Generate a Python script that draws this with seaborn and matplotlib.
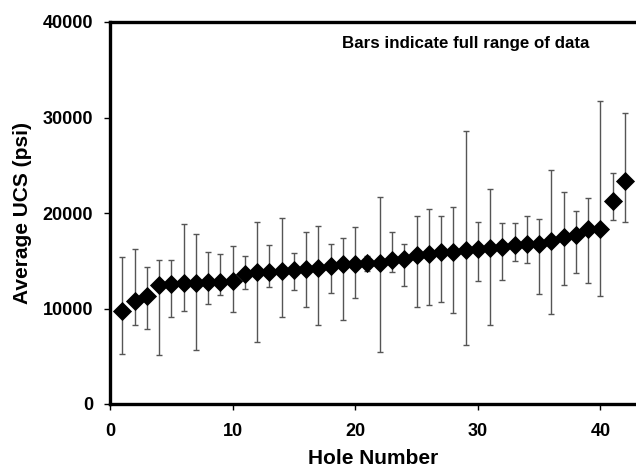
import matplotlib
matplotlib.use("Agg")
import matplotlib.pyplot as plt
import seaborn as sns
import numpy as np
import pandas as pd

holes = list(range(1, 43))
avg_ucs = [9770, 10750, 11270, 12420, 12600, 12670, 12670, 12810, 12810, 12880,
           13650, 13790, 13860, 13930, 14070, 14140, 14280, 14480, 14620, 14620,
           14720, 14720, 15080, 15210, 15600, 15710, 15880, 15950, 16120, 16260,
           16330, 16470, 16610, 16720, 16790, 17030, 17520, 17660, 18290, 18290,
           21220, 23310]
min_ucs = [5230, 8300, 7820, 5130, 9110, 9700, 5690, 10470, 11380, 9630,
           12010, 6520, 12220, 9140, 11940, 10190, 8300, 11590, 8790, 11100,
           13930, 5440, 13860, 12360, 10120, 10330, 10680, 9490, 6140, 12840,
           8230, 12980, 15000, 14730, 11480, 9420, 12490, 13750, 12640, 11310,
           19260, 19090]
max_ucs = [15360, 16260, 14310, 15110, 15110, 18850, 17760, 15880, 15670, 16580,
           15460, 19020, 16620, 19440, 15810, 17970, 18670, 16720, 17350, 18560,
           15530, 21710, 18050, 16790, 19650, 20380, 19720, 20660, 28620, 19090,
           22550, 18990, 18990, 19680, 19400, 24500, 22230, 20170, 21600, 31760,
           24150, 30500]
x_ticks = [0, 10, 20, 30, 40]
y_ticks = [0, 10000, 20000, 30000, 40000]

df = pd.DataFrame({"hole": holes, "avg": avg_ucs, "lo": min_ucs, "hi": max_ucs})

sns.set_style("white", {"text.color": "black", "axes.labelcolor": "black",
                        "xtick.color": "black", "ytick.color": "black"})
plt.rcParams['font.family'] = ['Liberation Sans', 'DejaVu Sans']

fig = plt.figure(figsize=(6.36, 4.70), dpi=100)
ax = fig.add_axes([110/636, 1-404/470, 1-110/636, (404-22)/470])

yerr = np.vstack([df["avg"] - df["lo"], df["hi"] - df["avg"]])
ax.errorbar(df["hole"], df["avg"], yerr=yerr, fmt="none", ecolor="#555555",
            elinewidth=1.0, capsize=2.5, capthick=1.0, zorder=2)
sns.scatterplot(data=df, x="hole", y="avg", marker="D", s=95, color="black",
                edgecolor="black", linewidth=0, ax=ax, zorder=3)

ax.set_xlim(0, 42.9)
ax.set_ylim(0, 40000)
ax.set_xticks(x_ticks)
ax.set_yticks(y_ticks)
ax.set_xticklabels([str(v) for v in x_ticks])
ax.set_yticklabels([str(v) for v in y_ticks])

for s in ["left", "bottom", "top"]:
    ax.spines[s].set_linewidth(2.4)
    ax.spines[s].set_color("black")
ax.spines["right"].set_visible(False)

ax.tick_params(axis="both", which="major", direction="out", length=4.5, width=1,
               color="black", labelcolor="black", labelsize=13, bottom=True, left=True)
ax.tick_params(axis="x", pad=9)
ax.tick_params(axis="y", pad=7.5)
for lbl in ax.get_xticklabels() + ax.get_yticklabels():
    lbl.set_fontweight("bold")

ax.set_xlabel("Hole Number", fontsize=15, fontweight="bold", color="black")
ax.set_ylabel("Average UCS (psi)", fontsize=15, fontweight="bold", color="black")
ax.xaxis.set_label_coords(0.5, -(459-404)/382, transform=ax.transAxes)
ax.yaxis.set_label_coords(-(110-23)/526, 0.5, transform=ax.transAxes)
ax.xaxis.label.set_va("center")
ax.yaxis.label.set_va("center")

ax.text((589-110)/526, (404-43.5)/382, "Bars indicate full range of data",
        transform=ax.transAxes, ha="right", va="center", fontsize=12.2,
        fontweight="bold", color="black")

fig.savefig("out.png", dpi=100)
